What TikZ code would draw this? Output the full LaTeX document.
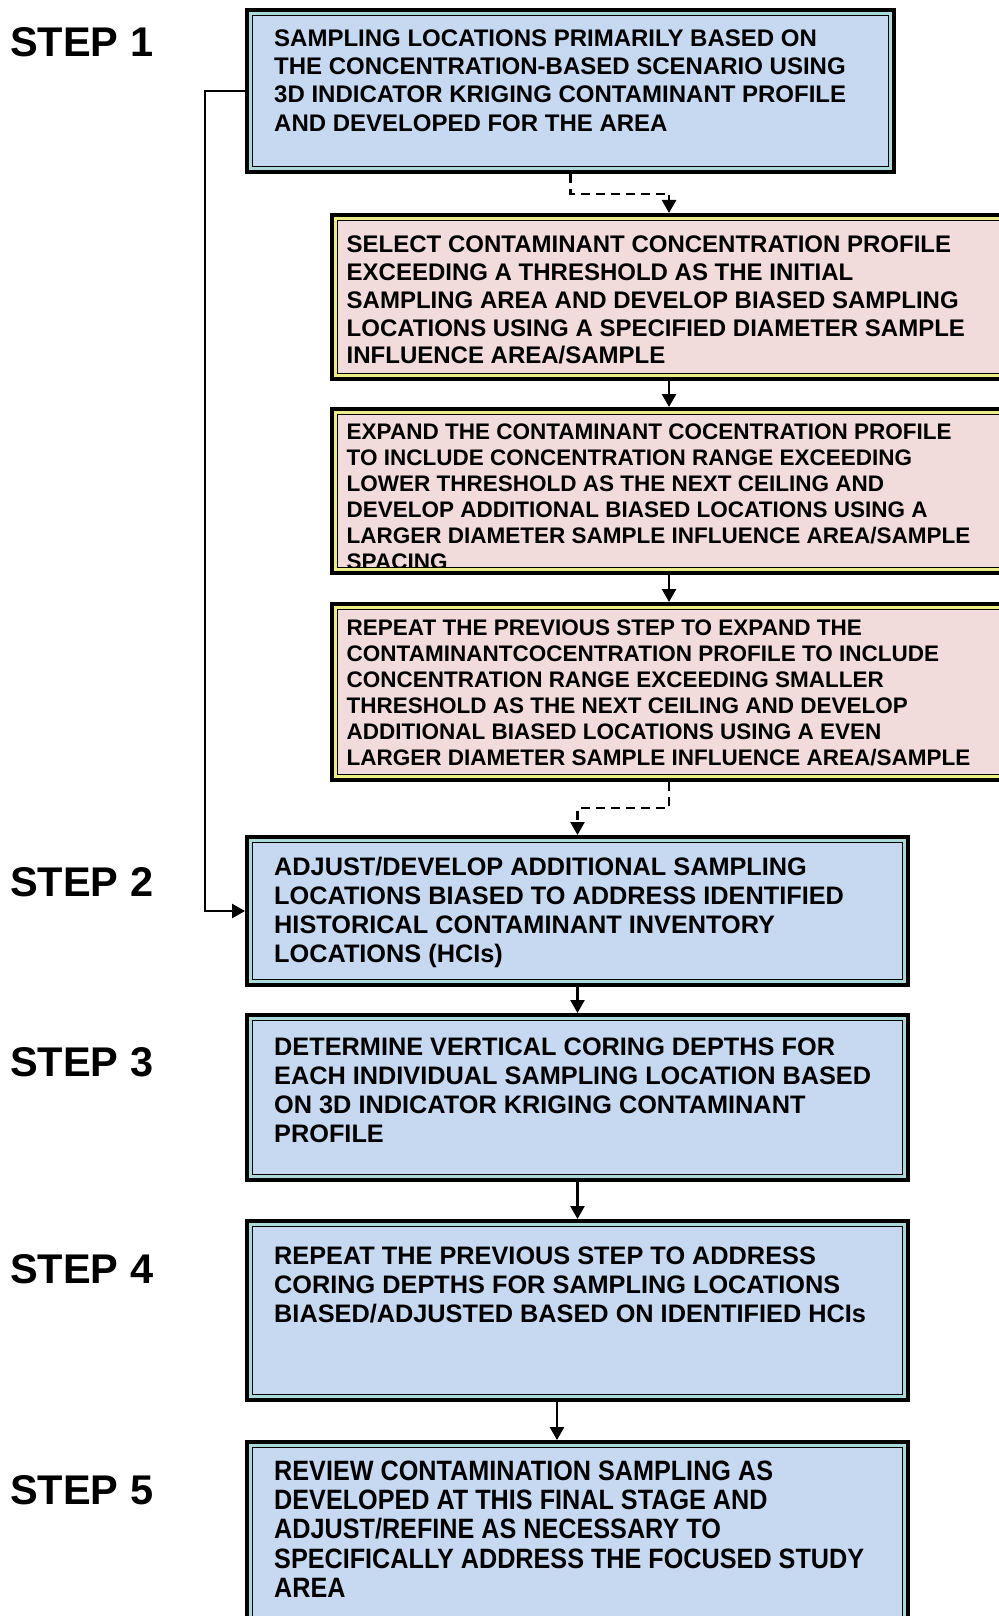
\documentclass[tikz,border=0pt]{standalone}
\usepackage{fontspec}
\setmainfont{Liberation Sans}
\newfontfamily\narrowfont{Liberation Sans}[FakeStretch = 0.9]
\usepackage{xcolor}
\usetikzlibrary{arrows.meta, calc}
\definecolor{boxblue}{HTML}{C6D9F1}
\definecolor{bandteal}{HTML}{ABD9D9}
\definecolor{pinkfill}{HTML}{F2DCDB}
\definecolor{bandyellow}{HTML}{EDED85}
\tikzset{> = { Triangle[length = 13pt, width = 14pt] }}
\tikzset{
	framebox/.style 2 args = {rectangle, anchor = north west, inner sep = 0pt, outer sep = 7.6pt,
		fill = #1, draw = black, line width = 1.2pt,
		preaction = {draw = black, line width = 15.2pt},
		preaction = {draw = #2, line width = 7.2pt}},
	stepbox/.style = {framebox = {boxblue}{bandteal}},
	pinkbox/.style = {framebox = {pinkfill}{bandyellow}},
	boxtext/.style 2 args = {anchor = north west, inner sep = 0pt, align = left, font = \fontsize{#1}{#2}\selectfont\bfseries},
	narrowtext/.style 2 args = {boxtext = {#1}{#2}, font = \narrowfont\fontsize{#1}{#2}\selectfont\bfseries},
	steplabel/.style = {anchor = west, inner sep = 0pt, font = \fontsize{41.5}{48}\selectfont\bfseries},
	flow/.style = {->, line width = 2.5pt},
	dashflow/.style = {flow, dash pattern = on 9pt off 6pt}
}

\begin{document}
\begin{tikzpicture}[x = 1pt, y = -1pt]
		\useasboundingbox (0, 0) rectangle (998, 1616);

		% step labels
		\node [steplabel] (s1) at (10, 42.5) {STEP 1};
		\node [steplabel] (s2) at (10, 882.5) {STEP 2};
		\node [steplabel] (s3) at (10, 1062) {STEP 3};
		\node [steplabel] (s4) at (10, 1269) {STEP 4};
		\node [steplabel] (s5) at (10, 1490) {STEP 5};

		% frames
		\node [stepbox, minimum width = 635.8, minimum height = 150.8] (b1) at (245, 8) {};
		\node [pinkbox, minimum width = 662.8, minimum height = 152.8] (p1) at (330, 213) {};
		\node [pinkbox, minimum width = 662.8, minimum height = 152.8] (p2) at (330, 407) {};
		\node [pinkbox, minimum width = 662.8, minimum height = 164.8] (p3) at (330, 602) {};
		\node [stepbox, minimum width = 649.8, minimum height = 136.8] (b2) at (245, 835) {};
		\node [stepbox, minimum width = 649.8, minimum height = 153.8] (b3) at (245, 1013) {};
		\node [stepbox, minimum width = 649.8, minimum height = 167.8] (b4) at (245, 1219) {};
		\node [stepbox, minimum width = 649.8, minimum height = 183.8] (b5) at (245, 1440) {};

		% texts
		\node [boxtext = {24}{28.3}] (t1) at (274, 29.4) {SAMPLING LOCATIONS PRIMARILY BASED ON\\THE CONCENTRATION-BASED SCENARIO USING\\3D INDICATOR KRIGING CONTAMINANT PROFILE\\AND DEVELOPED FOR THE AREA};
		\node [boxtext = {24}{27.8}] (tp1) at (346.5, 235.8) {SELECT CONTAMINANT CONCENTRATION PROFILE\\EXCEEDING A THRESHOLD AS THE INITIAL\\SAMPLING AREA AND DEVELOP BIASED SAMPLING\\LOCATIONS USING A SPECIFIED DIAMETER SAMPLE\\INFLUENCE AREA/SAMPLE};
		\begin{scope}
			\clip ([shift = {(8, 8)}] p2.north west) rectangle ([shift = {(-8, -8)}] p2.south east);
			\node [boxtext = {22.5}{26}] (tp2) at (346.5, 424) {EXPAND THE CONTAMINANT COCENTRATION PROFILE\\TO INCLUDE CONCENTRATION RANGE EXCEEDING\\LOWER THRESHOLD AS THE NEXT CEILING AND\\DEVELOP ADDITIONAL BIASED LOCATIONS USING A\\LARGER DIAMETER SAMPLE INFLUENCE AREA/SAMPLE\\SPACING};
		\end{scope}
		\node [boxtext = {22.5}{26}] (tp3) at (346.5, 620) {REPEAT THE PREVIOUS STEP TO EXPAND THE\\CONTAMINANTCOCENTRATION PROFILE TO INCLUDE\\CONCENTRATION RANGE EXCEEDING SMALLER\\THRESHOLD AS THE NEXT CEILING AND DEVELOP\\ADDITIONAL BIASED LOCATIONS USING A EVEN\\LARGER DIAMETER SAMPLE INFLUENCE AREA/SAMPLE};
		\node [boxtext = {25.3}{28.9}] (t2) at (274, 857) {ADJUST/DEVELOP ADDITIONAL SAMPLING\\LOCATIONS BIASED TO ADDRESS IDENTIFIED\\HISTORICAL CONTAMINANT INVENTORY\\LOCATIONS (HCIs)};
		\node [boxtext = {25.3}{29.2}] (t3) at (274, 1037.5) {DETERMINE VERTICAL CORING DEPTHS FOR\\EACH INDIVIDUAL SAMPLING LOCATION BASED\\ON 3D INDICATOR KRIGING CONTAMINANT\\PROFILE};
		\node [boxtext = {25.3}{28.9}] (t4) at (274, 1246.7) {REPEAT THE PREVIOUS STEP TO ADDRESS\\CORING DEPTHS FOR SAMPLING LOCATIONS\\BIASED/ADJUSTED BASED ON IDENTIFIED HCIs};
		\node [narrowtext = {28}{29.1}] (t5) at (274, 1461) {REVIEW CONTAMINATION SAMPLING AS\\DEVELOPED AT THIS FINAL STAGE AND\\ADJUST/REFINE AS NECESSARY TO\\SPECIFICALLY ADDRESS THE FOCUSED STUDY\\AREA};

		% connectors
		\draw [dashflow] (b1.south) -- ++(0, 20) -| (p1.north);
		\draw [flow] (p1.south) -- (p2.north);
		\draw [flow] (p2.south) -- (p3.north);
		\draw [dashflow] (p3.south) -- ++(0, 26) -| (b2.north);
		\draw [flow] (b1.west) -- ++(-40, 0) |- (b2.west);
		\draw [flow] (b2.south) -- (b3.north);
		\draw [flow] (b3.south) -- (b4.north);
		\draw [flow] ([xshift = -20.5] b4.south) -- ([xshift = -20.5] b5.north);
	\end{tikzpicture}
\end{document}
